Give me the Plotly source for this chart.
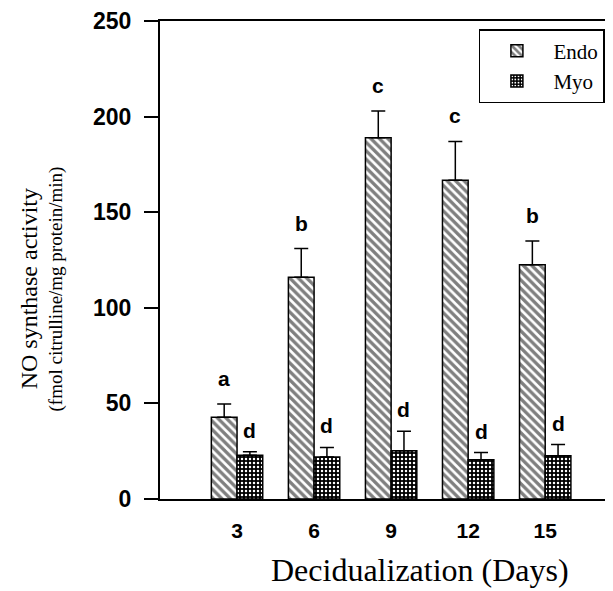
import plotly.graph_objects as go

days = ["3", "6", "9", "12", "15"]
endo = [42.7, 116, 189, 166.7, 122.5]
endo_err = [7.0, 15.0, 13.9, 20.3, 12.5]
myo = [22.9, 22.0, 25.2, 20.5, 22.6]
myo_err = [1.8, 5.0, 10.2, 3.8, 5.9]
endo_letters = ["a", "b", "c", "c", "b"]
myo_letters = ["d", "d", "d", "d", "d"]
yticks = [0, 50, 100, 150, 200, 250]

pos = list(range(1, len(days) + 1))

fig = go.Figure()
fig.add_trace(go.Bar(
    x=pos, y=endo, name="Endo",
    marker=dict(color="white", line=dict(color="black", width=1.5),
                pattern=dict(shape="\\", fgcolor="black", bgcolor="white",
                             size=6, solidity=0.55, fillmode="overlay")),
    error_y=dict(type="data", array=endo_err, arrayminus=[0]*5, symmetric=False,
                 color="black", thickness=1.5, width=7),
))
fig.add_trace(go.Bar(
    x=pos, y=myo, name="Myo",
    marker=dict(color="black", line=dict(color="black", width=1.5),
                pattern=dict(shape=".", fgcolor="white", bgcolor="black",
                             size=4, solidity=0.3, fillmode="replace")),
    error_y=dict(type="data", array=myo_err, arrayminus=[0]*5, symmetric=False,
                 color="black", thickness=1.5, width=7),
))

half = (1 - 0.333) / 4
for i, p in enumerate(pos):
    fig.add_annotation(x=p - half, y=endo[i] + endo_err[i], text=endo_letters[i],
                       showarrow=False, yanchor="bottom", yshift=12,
                       font=dict(family="Liberation Sans", size=21, color="black", weight="bold"))
    fig.add_annotation(x=p + half, y=myo[i] + myo_err[i], text=myo_letters[i],
                       showarrow=False, yanchor="bottom", yshift=8,
                       font=dict(family="Liberation Sans", size=21, color="black", weight="bold"))

fig.add_annotation(xref="paper", yref="paper", x=-0.29, y=0.44, text="NO synthase activity",
                   textangle=-90, showarrow=False, xanchor="center", yanchor="middle",
                   font=dict(family="Liberation Serif", size=24, color="black"))
fig.add_annotation(xref="paper", yref="paper", x=-0.23, y=0.44, text="(fmol citrulline/mg protein/min)",
                   textangle=-90, showarrow=False, xanchor="center", yanchor="middle",
                   font=dict(family="Liberation Serif", size=19, color="black"))
fig.add_annotation(xref="paper", yref="paper", x=0.574, y=-0.19, text="Decidualization (Days)",
                   showarrow=False, xanchor="center", yanchor="bottom",
                   font=dict(family="Liberation Serif", size=32, color="black"))

fig.update_layout(
    width=605, height=583,
    margin=dict(l=152, r=0, t=13, b=92),
    plot_bgcolor="white", paper_bgcolor="white",
    barmode="group", bargap=0.333, bargroupgap=0,
    showlegend=True,
    legend=dict(x=0.704, y=0.983, xanchor="left", yanchor="top",
                bordercolor="black", borderwidth=1.5, bgcolor="white",
                font=dict(family="Liberation Serif", size=21, color="black"),
                itemwidth=63),
    xaxis=dict(range=[0, 5.88], tickvals=pos, ticktext=days, showgrid=False, zeroline=False,
               showline=True, linecolor="black", linewidth=2, mirror=True, ticks="",
               tickfont=dict(family="Liberation Sans", size=21, color="black", weight="bold"),
               ticklabelstandoff=12),
    yaxis=dict(range=[0, 250], tickvals=yticks, showgrid=False, zeroline=False,
               showline=True, linecolor="black", linewidth=2, ticks="outside", ticklen=14,
               tickwidth=1.5, tickcolor="black",
               tickfont=dict(family="Liberation Sans", size=23, color="black", weight="bold"),
               ticklabelstandoff=8),
)

fig.write_html("out.html")
